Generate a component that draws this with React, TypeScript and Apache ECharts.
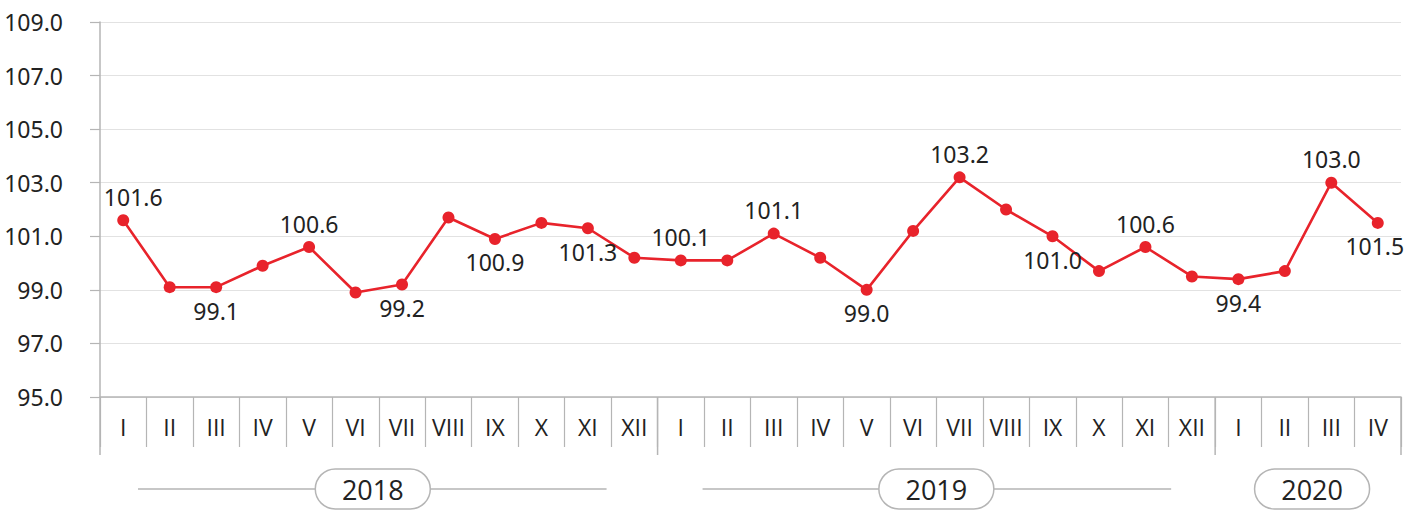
import React, { useEffect, useRef } from "react";
import * as echarts from "echarts";

const months = [
  "I", "II", "III", "IV", "V", "VI", "VII", "VIII", "IX", "X", "XI", "XII",
  "I", "II", "III", "IV", "V", "VI", "VII", "VIII", "IX", "X", "XI", "XII",
  "I", "II", "III", "IV",
];
const values2018 = [101.6, 99.1, 99.1, 99.9, 100.6, 98.9, 99.2, 101.7, 100.9, 101.5, 101.3, 100.2];
const values2019 = [100.1, 100.1, 101.1, 100.2, 99.0, 101.2, 103.2, 102.0, 101.0, 99.7, 100.6, 99.5];
const values2020 = [99.4, 99.7, 103.0, 101.5];
const values = [...values2018, ...values2019, ...values2020];
const labelPositions = [
  "top", "", "bottom", "", "top", "", "bottom", "", "bottom", "", "bottom", "",
  "top", "", "top", "", "bottom", "", "top", "", "bottom", "", "top", "",
  "bottom", "", "top", "bottom",
];
const years = ["2018", "2019", "2020"];
const yearMonths = [12, 12, 4];
const yMin = 95;
const yMax = 109;
const yStep = 2;

const FONT = "'Noto Sans', sans-serif";
const FONT_X = "'Open Sans', sans-serif";
const RED = "#e8232b";
const GRAY = "#b5b5b5";

export default function App() {
  const ref = useRef<HTMLDivElement>(null);
  useEffect(() => {
    if (!ref.current) return;
    const chart = echarts.init(ref.current, null, { renderer: "svg" });
    chart.setOption({
      animation: false,
      textStyle: { fontFamily: FONT },
      grid: { left: 100, right: 19, top: 22, bottom: 116, containLabel: false },
      xAxis: {
        type: "category",
        data: months,
        boundaryGap: true,
        axisLine: { show: true, lineStyle: { color: GRAY, width: 1.5 } },
        axisTick: { show: true, interval: 0, length: 50, lineStyle: { color: GRAY, width: 1.2 } },
        axisLabel: { interval: 0, fontSize: 23, color: "#222", margin: 18, fontFamily: FONT_X },
      },
      yAxis: {
        type: "value",
        min: yMin,
        max: yMax,
        interval: yStep,
        axisLine: { show: true, lineStyle: { color: GRAY, width: 1.5 } },
        axisTick: { show: true, length: 10, lineStyle: { color: GRAY, width: 1.2 } },
        axisLabel: {
          fontSize: 23,
          color: "#222",
          margin: 37,
          fontFamily: FONT,
          formatter: (v: number) => v.toFixed(1),
        },
        splitLine: { lineStyle: { color: "#e2e2e2", width: 1.2 } },
      },
      series: [
        {
          type: "line",
          data: values.map((v, i) => {
            const pos = labelPositions[i];
            return {
              value: v,
              label: pos
                ? {
                    show: true,
                    position: pos,
                    distance: 6,
                    offset: i === 0 ? [10, 0] : i === values.length - 1 ? [-3, 0] : [0, 0],
                  }
                : { show: false },
            };
          }),
          symbol: "circle",
          symbolSize: 12,
          lineStyle: { color: RED, width: 2.6 },
          itemStyle: { color: RED },
          label: {
            fontSize: 23,
            color: "#222",
            fontFamily: FONT,
            formatter: (p: any) => Number(p.value).toFixed(1),
          },
        },
      ],
    });

    const c0 = chart.convertToPixel({ xAxisIndex: 0 }, 0) as number;
    const c1 = chart.convertToPixel({ xAxisIndex: 0 }, 1) as number;
    const band = c1 - c0;
    const yAxisPx = chart.convertToPixel({ yAxisIndex: 0 }, yMin) as number;
    const boundaryX = (i: number) => c0 - band / 2 + band * i;

    const graphics: any[] = [];
    let start = 0;
    const bounds = [0];
    yearMonths.forEach((n) => {
      start += n;
      bounds.push(start);
    });
    bounds.forEach((b) => {
      const x = boundaryX(b);
      graphics.push({
        type: "line",
        shape: { x1: x, y1: yAxisPx, x2: x, y2: yAxisPx + 58 },
        style: { stroke: GRAY, lineWidth: 1.5 },
        z: 10,
      });
    });
    const lineY = yAxisPx + 92;
    const pillW = 115;
    const pillH = 40;
    years.forEach((yr, k) => {
      const x0 = boundaryX(bounds[k]);
      const x1 = boundaryX(bounds[k + 1]);
      const cx = (x0 + x1) / 2 + (k === 0 ? -6 : k === 2 ? 4 : 0);
      if (x1 - x0 > pillW + 100) {
        const inL = k === 0 ? 38 : 45;
        const inR = k === 0 ? 51 : 44;
        graphics.push({
          type: "line",
          shape: { x1: x0 + inL, y1: lineY, x2: x1 - inR, y2: lineY },
          style: { stroke: GRAY, lineWidth: 1.5 },
          z: 10,
        });
      }
      graphics.push({
        type: "rect",
        shape: { x: cx - pillW / 2, y: lineY - pillH / 2, width: pillW, height: pillH, r: pillH / 2 },
        style: { fill: "#fff", stroke: GRAY, lineWidth: 1.5 },
        z: 11,
      });
      graphics.push({
        type: "text",
        x: cx,
        y: lineY,
        style: {
          text: yr,
          fontSize: 27,
          fontFamily: FONT_X,
          fill: "#222",
          align: "center",
          verticalAlign: "middle",
        },
        z: 12,
      });
    });
    chart.setOption({ graphic: graphics });

    return () => chart.dispose();
  }, []);
  return (
    <div
      ref={ref}
      style={{ position: "absolute", left: 0, top: 0, width: 1420, height: 513 }}
    />
  );
}
